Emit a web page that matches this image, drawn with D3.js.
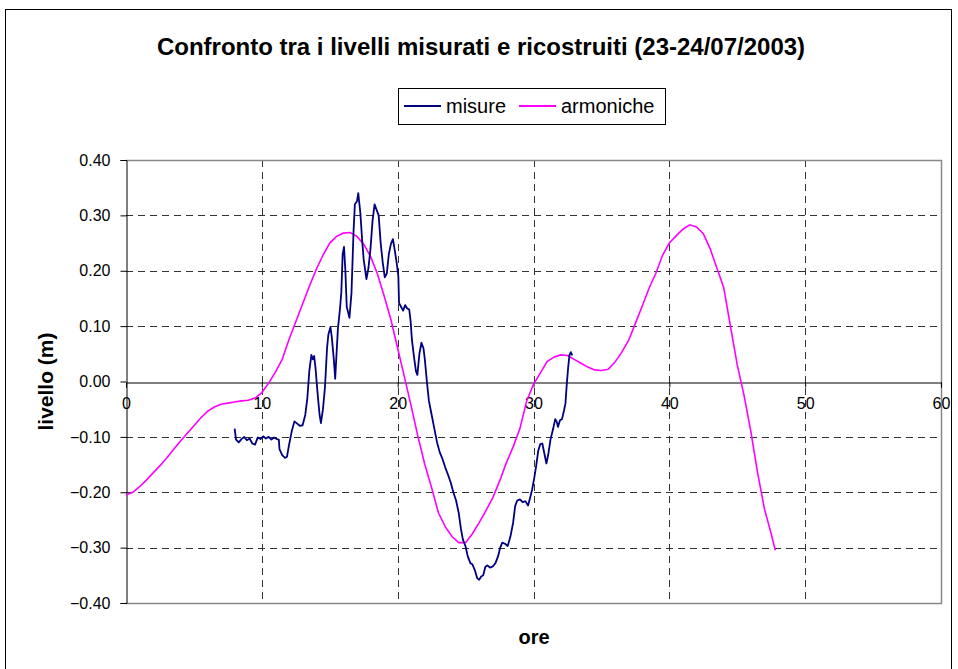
<!DOCTYPE html>
<html>
<head>
<meta charset="utf-8">
<script src="https://cdn.jsdelivr.net/npm/d3@7"></script>
<style>
  body { margin: 0; background: #fff; }
  text { font-family: "Liberation Sans", Arial, sans-serif; }
</style>
</head>
<body>
<div id="chart"></div>
<script>
// measured levels (ore, m)
const misure = [
  [8.0,-0.085],[8.1,-0.105],[8.3,-0.110],[8.5,-0.104],[8.7,-0.100],[8.9,-0.106],[9.1,-0.103],[9.3,-0.112],
  [9.5,-0.114],[9.7,-0.101],[9.9,-0.104],[10.1,-0.099],[10.3,-0.103],[10.5,-0.100],[10.7,-0.105],[10.9,-0.101],
  [11.1,-0.104],[11.25,-0.105],[11.3,-0.122],[11.5,-0.133],[11.7,-0.138],[11.85,-0.136],[12.0,-0.115],[12.2,-0.090],
  [12.4,-0.072],[12.6,-0.076],[12.8,-0.080],[13.0,-0.079],[13.2,-0.060],[13.35,-0.030],[13.5,0.020],[13.65,0.048],
  [13.75,0.040],[13.85,0.046],[13.95,0.025],[14.1,-0.020],[14.25,-0.060],[14.35,-0.075],[14.5,-0.050],[14.65,-0.010],
  [14.8,0.060],[14.9,0.085],[15.05,0.098],[15.15,0.080],[15.3,0.040],[15.4,0.005],[15.5,0.050],[15.6,0.095],
  [15.75,0.130],[15.85,0.160],[15.95,0.230],[16.05,0.243],[16.15,0.200],[16.25,0.135],[16.45,0.115],[16.6,0.160],
  [16.75,0.270],[16.85,0.320],[17.0,0.325],[17.1,0.340],[17.25,0.305],[17.4,0.250],[17.5,0.220],[17.7,0.185],
  [17.85,0.205],[18.0,0.240],[18.15,0.290],[18.3,0.320],[18.45,0.310],[18.6,0.300],[18.75,0.250],[18.9,0.215],
  [19.05,0.188],[19.2,0.195],[19.35,0.230],[19.5,0.248],[19.65,0.257],[19.8,0.235],[19.95,0.210],[20.05,0.190],
  [20.1,0.142],[20.25,0.135],[20.4,0.128],[20.55,0.138],[20.7,0.132],[20.85,0.130],[20.95,0.110],[21.05,0.075],
  [21.2,0.045],[21.35,0.018],[21.45,0.012],[21.6,0.050],[21.75,0.070],[21.9,0.060],[22.0,0.040],[22.15,0.000],
  [22.3,-0.035],[22.5,-0.060],[22.7,-0.085],[22.9,-0.110],[23.1,-0.128],[23.3,-0.140],[23.5,-0.155],[23.7,-0.168],
  [23.9,-0.182],[24.1,-0.200],[24.3,-0.215],[24.5,-0.238],[24.65,-0.265],[24.8,-0.285],[25.0,-0.298],[25.15,-0.315],
  [25.35,-0.328],[25.5,-0.330],[25.7,-0.342],[25.85,-0.355],[26.0,-0.358],[26.15,-0.352],[26.3,-0.350],[26.45,-0.335],
  [26.6,-0.332],[26.8,-0.336],[27.0,-0.334],[27.2,-0.328],[27.4,-0.315],[27.55,-0.300],[27.7,-0.291],[27.9,-0.293],
  [28.1,-0.297],[28.3,-0.280],[28.5,-0.255],[28.65,-0.225],[28.8,-0.215],[29.0,-0.213],[29.2,-0.218],[29.4,-0.216],
  [29.6,-0.224],[29.75,-0.210],[29.9,-0.195],[30.05,-0.175],[30.2,-0.152],[30.35,-0.125],[30.5,-0.113],[30.65,-0.112],
  [30.8,-0.130],[30.95,-0.148],[31.1,-0.130],[31.25,-0.105],[31.45,-0.085],[31.6,-0.068],[31.7,-0.072],[31.8,-0.082],
  [31.95,-0.070],[32.1,-0.068],[32.25,-0.052],[32.35,-0.040],[32.45,-0.005],[32.55,0.025],[32.65,0.048],[32.75,0.053],
  [32.85,0.047]
];

// harmonic reconstruction (ore, m)
const armoniche = [
  [0,-0.205],[0.5,-0.200],[1,-0.190],[1.5,-0.178],[2,-0.165],[2.5,-0.152],[3,-0.138],[3.5,-0.123],[4,-0.108],
  [4.5,-0.094],[5,-0.080],[5.5,-0.066],[6,-0.054],[6.5,-0.046],[7,-0.041],[7.5,-0.039],[8,-0.037],[8.5,-0.035],
  [9,-0.034],[9.5,-0.030],[10,-0.020],[10.5,-0.003],[11,0.017],[11.5,0.040],[12,0.076],[12.5,0.108],[13,0.140],
  [13.5,0.172],[14,0.202],[14.5,0.228],[15,0.250],[15.5,0.262],[16,0.268],[16.5,0.269],[17,0.262],[17.5,0.248],
  [18,0.226],[18.5,0.195],[19,0.155],[19.5,0.112],[20,0.060],[20.5,0.008],[21,-0.045],[21.5,-0.100],[22,-0.150],
  [22.5,-0.192],[23,-0.237],[23.5,-0.262],[24,-0.280],[24.5,-0.291],[25,-0.291],[25.5,-0.275],[26,-0.255],
  [26.5,-0.233],[27,-0.210],[27.5,-0.180],[28,-0.147],[28.5,-0.118],[29,-0.085],[29.5,-0.035],[30,-0.005],
  [30.5,0.015],[31,0.036],[31.5,0.044],[32,0.048],[32.5,0.047],[33,0.040],[33.5,0.033],[34,0.026],[34.5,0.021],
  [35,0.020],[35.5,0.022],[36,0.035],[36.5,0.053],[37,0.074],[37.5,0.105],[38,0.136],[38.5,0.168],[39,0.195],
  [39.5,0.228],[40,0.250],[40.5,0.263],[41,0.275],[41.5,0.283],[42,0.279],[42.5,0.267],[43,0.240],[43.5,0.205],
  [44,0.170],[44.5,0.100],[45,0.030],[45.5,-0.025],[46,-0.090],[46.5,-0.165],[47,-0.230],[47.5,-0.275],[47.8,-0.305]
];

const xTicks = [0, 10, 20, 30, 40, 50, 60];
const yTicks = [-0.4, -0.3, -0.2, -0.1, 0, 0.1, 0.2, 0.3, 0.4];

const width = 958, height = 669;
const plot = { left: 126, top: 160, right: 941, bottom: 603 };

const svg = d3.select("#chart")
  .append("svg")
    .attr("width", width)
    .attr("height", height);

// outer frame
svg.append("rect")
  .attr("x", 5.5).attr("y", 9.5)
  .attr("width", 946).attr("height", 680)
  .style("fill", "#fff")
  .style("stroke", "#000")
  .style("stroke-width", 1);

const x = d3.scaleLinear().domain([0, 60]).range([plot.left, plot.right]);
const y = d3.scaleLinear().domain([-0.4, 0.4]).range([plot.bottom, plot.top]);

// grid
const grid = svg.append("g").attr("class", "grid");
grid.selectAll(".hgrid")
  .data(yTicks.filter(d => d !== 0 && d !== 0.4))
  .enter().append("line")
    .attr("x1", plot.left).attr("x2", plot.right)
    .attr("y1", d => Math.round(y(d)) + 0.5).attr("y2", d => Math.round(y(d)) + 0.5)
    .style("stroke", "#333")
    .style("stroke-dasharray", "7,5");
grid.selectAll(".vgrid")
  .data(xTicks.filter(d => d !== 0 && d !== 60))
  .enter().append("line")
    .attr("x1", d => Math.round(x(d)) + 0.5).attr("x2", d => Math.round(x(d)) + 0.5)
    .attr("y1", plot.top).attr("y2", plot.bottom)
    .style("stroke", "#333")
    .style("stroke-dasharray", "7,5");

// plot border (gray)
svg.append("path")
  .attr("d", `M${plot.left},${plot.top + 0.5}H${plot.right + 0.5}V${plot.bottom + 0.5}H${plot.left}`)
  .style("fill", "none")
  .style("stroke", "#888")
  .style("stroke-width", 1.5);

// y axis
const yAxis = svg.append("g")
  .attr("transform", `translate(${plot.left + 0.5},0)`)
  .call(d3.axisLeft(y).tickValues(yTicks).tickFormat(d3.format(".2f")).tickSize(6).tickPadding(10));
yAxis.select(".domain").style("stroke", "#000");
yAxis.selectAll("text")
  .style("font-size", "16px")
  .style("font-family", "Liberation Sans, Arial, sans-serif")
  .attr("fill", "#000");

// x axis crossing at zero
const xAxis = svg.append("g")
  .attr("transform", `translate(0,${Math.round(y(0)) + 0.5})`)
  .call(d3.axisBottom(x).tickValues(xTicks).tickSize(5).tickPadding(10));
xAxis.select(".domain").style("stroke", "#000");
xAxis.selectAll("text")
  .style("font-size", "16px")
  .style("font-family", "Liberation Sans, Arial, sans-serif")
  .attr("fill", "#000");

// series
const line = d3.line()
  .x(d => x(d[0]))
  .y(d => y(d[1]));

svg.append("path")
  .datum(armoniche)
  .attr("d", line)
  .style("fill", "none")
  .style("stroke", "#ff00ff")
  .style("stroke-width", 1.6);

svg.append("path")
  .datum(misure)
  .attr("d", line)
  .style("fill", "none")
  .style("stroke", "#000080")
  .style("stroke-width", 1.8)
  .style("stroke-linejoin", "round");

// title
svg.append("text")
  .attr("x", 481).attr("y", 55)
  .attr("text-anchor", "middle")
  .style("font-size", "24px")
  .style("font-weight", "bold")
  .text("Confronto tra i livelli misurati e ricostruiti (23-24/07/2003)");

// axis titles
svg.append("text")
  .attr("x", 534).attr("y", 644)
  .attr("text-anchor", "middle")
  .style("font-size", "20px")
  .style("font-weight", "bold")
  .text("ore");

svg.append("text")
  .attr("transform", `translate(53,${y(0)})rotate(-90)`)
  .attr("text-anchor", "middle")
  .style("font-size", "21px")
  .style("font-weight", "bold")
  .text("livello (m)");

// legend
const legendItems = [
  { name: "misure", color: "#000080", x: 404 },
  { name: "armoniche", color: "#ff00ff", x: 519 }
];
const legend = svg.append("g").attr("class", "legend");
legend.append("rect")
  .attr("x", 398.5).attr("y", 88.5)
  .attr("width", 267).attr("height", 36)
  .style("fill", "#fff")
  .style("stroke", "#000");
const items = legend.selectAll(".item")
  .data(legendItems).enter()
  .append("g")
  .attr("transform", d => `translate(${d.x},106)`);
items.append("line")
  .attr("x1", 0).attr("x2", 37)
  .style("stroke", d => d.color)
  .style("stroke-width", 2);
items.append("text")
  .attr("x", 42).attr("y", 7)
  .style("font-size", "20px")
  .text(d => d.name);
</script>
</body>
</html>
